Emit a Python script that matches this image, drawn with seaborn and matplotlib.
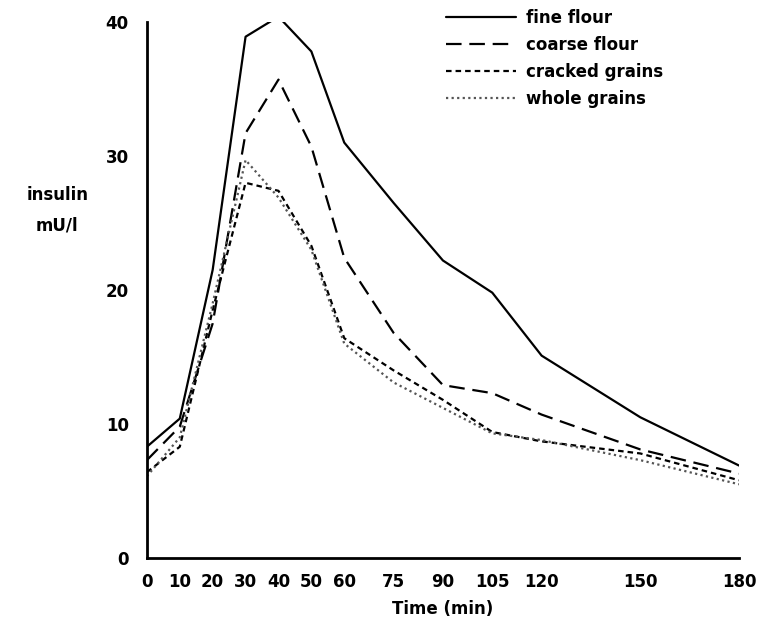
import pandas as pd
import seaborn as sns
import matplotlib.pyplot as plt

# values
time = [0, 10, 20, 30, 40, 50, 60, 75, 90, 105, 120, 150, 180]
fine_flour = [8.3, 10.4, 21.5, 38.9, 40.4, 37.8, 31.0, 26.5, 22.2, 19.8, 15.1, 10.5, 6.9]
coarse_flour = [7.3, 9.8, 17.5, 31.7, 35.7, 30.7, 22.4, 16.8, 12.9, 12.3, 10.7, 8.1, 6.3]
cracked_grains = [6.4, 8.3, 18.5, 28.0, 27.4, 23.3, 16.4, 14.0, 11.8, 9.4, 8.7, 7.8, 5.8]
whole_grains = [6.1, 9.0, 19.0, 29.7, 26.9, 23.0, 16.0, 13.1, 11.2, 9.3, 8.8, 7.3, 5.5]

series_names = ["fine flour", "coarse flour", "cracked grains", "whole grains"]
x_ticks = [0, 10, 20, 30, 40, 50, 60, 75, 90, 105, 120, 150, 180]
y_ticks = [0, 10, 20, 30, 40]

rows = []
for name, vals in zip(series_names, [fine_flour, coarse_flour, cracked_grains, whole_grains]):
    for t, v in zip(time, vals):
        rows.append({"time": t, "insulin": v, "series": name})
df = pd.DataFrame(rows)

sns.set_style("white")
plt.rcParams['font.family'] = ['Liberation Sans Narrow', 'DejaVu Sans']
plt.rcParams['font.weight'] = 'bold'
plt.rcParams['text.color'] = 'black'
plt.rcParams['axes.labelcolor'] = 'black'

fig = plt.figure(figsize=(7.65, 6.28), dpi=100)
ax = fig.add_axes([0.192, 0.1115, 0.774, 0.8535])

palette = {"fine flour": "black", "coarse flour": "black",
           "cracked grains": "black", "whole grains": "#555555"}
dashes = {"fine flour": "", "coarse flour": (7, 3.5),
          "cracked grains": (2.5, 1.8), "whole grains": (1, 1.5)}

sns.lineplot(data=df, x="time", y="insulin", hue="series", style="series",
             palette=palette, dashes=dashes, linewidth=1.6, ax=ax)

ax.set_xlim(0, 180)
ax.set_ylim(0, 40)
ax.set_xticks(x_ticks)
ax.set_xticklabels([str(t) for t in x_ticks])
ax.set_yticks(y_ticks)
ax.set_yticklabels([str(t) for t in y_ticks])
ax.tick_params(axis="both", direction="out", length=5, width=1.5, labelsize=12,
               colors="black", labelcolor="black")
ax.tick_params(axis="x", pad=6)
ax.tick_params(axis="y", pad=8)

for side in ["top", "right"]:
    ax.spines[side].set_visible(False)
for side in ["left", "bottom"]:
    ax.spines[side].set_linewidth(2)
    ax.spines[side].set_color("black")

ax.set_xlabel("Time (min)", fontsize=12, fontweight="bold", labelpad=6, color="black")
ax.set_ylabel("")
fig.text(0.075, 0.665, "insulin\nmU/l", ha="center", va="center",
         fontsize=12, fontweight="bold", linespacing=1.9, color="black")

handles, labels = ax.get_legend_handles_labels()
leg = ax.legend(handles, labels, frameon=False, loc="upper left",
                bbox_to_anchor=(0.505, 1.025), fontsize=12, handlelength=4.2,
                handletextpad=0.6, labelspacing=0.55, borderpad=0, borderaxespad=0)
for txt in leg.get_texts():
    txt.set_color("black")

fig.savefig("out.png", dpi=100)
